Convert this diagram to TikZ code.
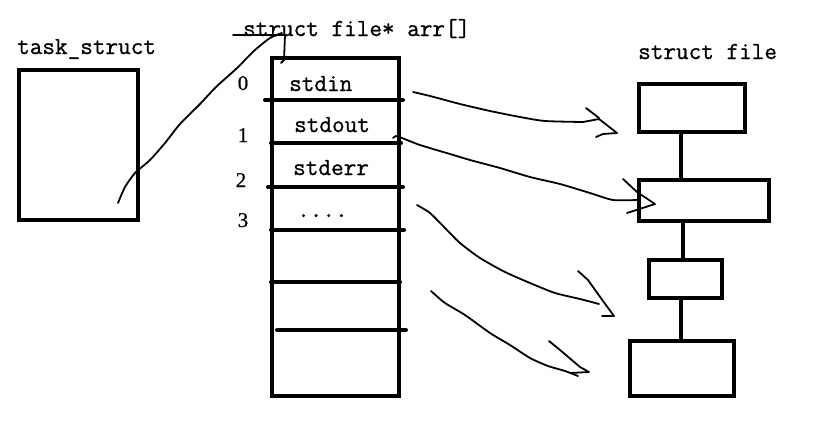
\documentclass[tikz,border=0pt]{standalone}
\usepackage{fontspec}
\newfontfamily\digitfont{Liberation Serif}[FakeBold=0.6]
\newfontfamily\codefont{Latin Modern Mono}[FakeBold=0.9]
\begin{document}
\begin{tikzpicture}[x=1pt,y=-1pt,
  box/.style={draw,line width=4pt,inner sep=0pt,outer sep=0pt},
  divider/.style={line width=4pt,line cap=round},
  link/.style={line width=4pt},
  hand/.style={line width=1.8pt,line join=round,line cap=round},
  lbl/.style={anchor=base west,inner sep=0pt,font=\fontsize{24.5}{24.5}\selectfont\codefont},
  idx/.style={anchor=base,inner sep=0pt,font=\fontsize{21}{21}\selectfont\digitfont}]
\useasboundingbox (0,0) rectangle (816,445);
% boxes
\node[box,minimum width=119pt,minimum height=150pt] (task) at (78.5,145) {};
\node[box,minimum width=127pt,minimum height=338pt] (arr) at (335.5,227) {};
\node[box,minimum width=106pt,minimum height=48pt] (fA) at (692,108) {};
\node[box,minimum width=130pt,minimum height=41pt] (fB) at (704,200.5) {};
\node[box,minimum width=73pt,minimum height=38pt] (fC) at (685.5,279) {};
\node[box,minimum width=104pt,minimum height=55pt] (fD) at (682,368.5) {};
% links between file boxes
\draw[link] (fA.south -| 681,0) -- (fB.north -| 681,0);
\draw[link] (fB.south -| 683,0) -- (fC.north -| 683,0);
\draw[link] (fC.south -| 681,0) -- (fD.north -| 681,0);
% dividers
\draw[divider] (265,100) -- (403,100);
\draw[divider] (271,143) -- (401,143);
\draw[divider] (268,187) -- (403,187);
\draw[divider] (271,230) -- (404,230);
\draw[divider] (271,282) -- (400,282);
\draw[divider] (277,330) -- (406,330);
% labels
\node[lbl] (tl) at (17,54) {task\_struct};
\node[lbl] (al) at (243,36) {struct file* arr[]};
\node[lbl] (fl) at (638,59) {struct file};
\node[lbl] (c0) at (289,91) {stdin};
\node[lbl] (c1) at (294,132) {stdout};
\node[lbl] (c2) at (293,175) {stderr};
\node[lbl] (c3) at (297,217) {....};
\node[idx] (i0) at (243,90) {0};
\node[idx] (i1) at (243,142) {1};
\node[idx] (i2) at (241,187) {2};
\node[idx] (i3) at (243,227) {3};
% pointer from task_struct to arr
\coordinate (p0) at (118,203);
\draw[hand] plot[smooth,tension=0.4] coordinates {(p0) (125,187) (135,173) (150,160) (165,143) (180,124) (200,104) (216,87) (236,69) (255,50) (270,38) (282,33)};
\draw[hand] (233,35) -- (285,35) -- (284,60) -- (281,63);
% arrow 1
\draw[hand] plot[smooth,tension=0.4] coordinates {(413,92) (430,96) (460,104) (490,111) (520,117) (545,121) (583,122)};
\draw[hand] (583,122) -- (599,119) -- (617,133) -- (603,134) -- (596,137);
\draw[hand] (586,108) -- (599,118);
% arrow 2
\draw[hand] plot[smooth,tension=0.4] coordinates {(393,138) (396,136) (402,138) (420,145) (450,154) (470,160) (500,168) (530,177) (560,184) (590,193) (613,200) (637,200)};
\draw[hand] (623,179) -- (637,192) -- (655,204) -- (627,213);
% arrow 3
\draw[hand] plot[smooth,tension=0.4] coordinates {(417,205) (430,213) (445,228) (460,243) (480,258) (505,272) (530,283) (555,293) (580,299) (599,304)};
\draw[hand] (578,271) -- (588,280) -- (603,301) -- (614,316) -- (602,316);
% arrow 4
\draw[hand] plot[smooth,tension=0.4] coordinates {(431,291) (445,303) (465,315) (490,333) (510,345) (530,358) (548,366) (565,371) (578,376)};
\draw[hand] (549,341) -- (560,350) -- (580,367) -- (589,372) -- (570,373);
\end{tikzpicture}
\end{document}
